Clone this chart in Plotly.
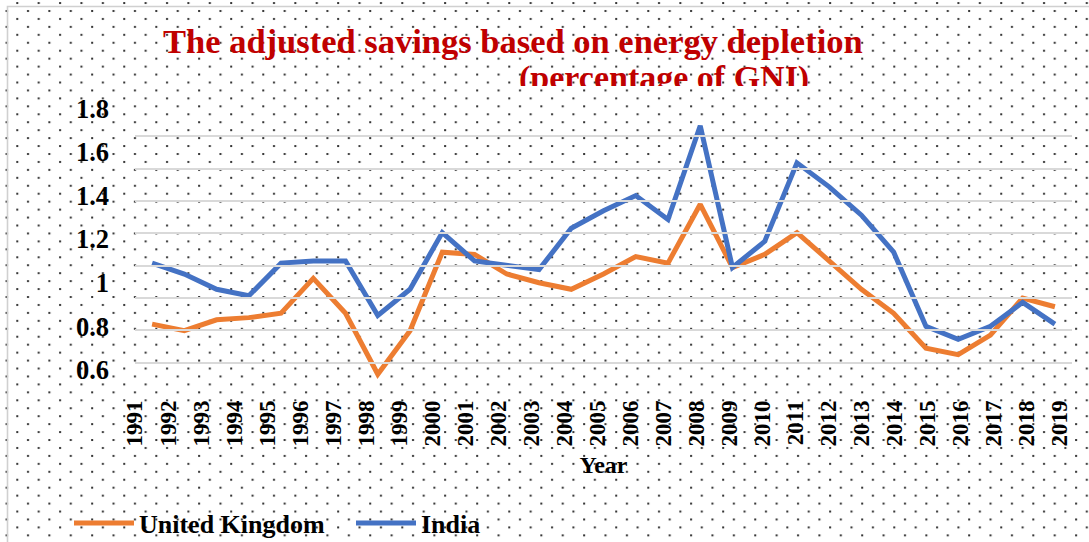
import base64
import plotly.graph_objects as go

years = [str(y) for y in range(1991, 2020)]
united_kingdom = [0.81, 0.78, 0.83, 0.84, 0.86, 1.02, 0.86, 0.58, 0.78, 1.14, 1.13,
                  1.04, 1.00, 0.97, 1.04, 1.12, 1.09, 1.36, 1.07, 1.13, 1.23, 1.10,
                  0.97, 0.86, 0.70, 0.67, 0.76, 0.93, 0.89]
india = [1.09, 1.04, 0.97, 0.94, 1.09, 1.10, 1.10, 0.85, 0.97, 1.23, 1.10,
         1.08, 1.06, 1.25, 1.33, 1.40, 1.29, 1.72, 1.07, 1.19, 1.55, 1.44,
         1.31, 1.14, 0.80, 0.74, 0.80, 0.91, 0.81]
y_ticks = [0.6, 0.8, 1.0, 1.2, 1.4, 1.6, 1.8]
y_tick_text = ["0.6", "0.8", "1", "1.2", "1.4", "1.6", "1.8"]
grid_steps = list(range(10))

W, H = 1089, 542
L, R, T, B = 135, 17, 104, 147
PW, PH = W - L - R, H - T - B

SERIF = "Liberation Serif, Times New Roman, serif"
ORANGE = "#ED7D31"
BLUE = "#4472C4"
RED = "#C00000"

# dotted background pattern (decoration)
svg = f'''<svg xmlns="http://www.w3.org/2000/svg" width="{W}" height="{H}" viewBox="0 0 {W} {H}" preserveAspectRatio="none">
<defs><pattern id="d" patternUnits="userSpaceOnUse" x="23" y="7" width="21.39" height="15.89">
<rect x="4" y="3" width="2" height="2" fill="#333"/>
<rect x="14.7" y="10.95" width="2" height="2" fill="#333"/>
</pattern></defs>
<rect x="0" y="0" width="{W}" height="{H}" fill="url(#d)"/>
<path d="M7.5,{H} L7.5,6.5 L{W},6.5" fill="none" stroke="#D0D0D0" stroke-width="1.6"/>
</svg>'''
src = "data:image/svg+xml;base64," + base64.b64encode(svg.encode()).decode()

def px(xp):
    return (xp - L) / PW

def py(yp):
    return (H - B - yp) / PH

fig = go.Figure()
# empty helper trace: draws the gridline axis (y) and the year-label axis (x2)
fig.add_trace(go.Scatter(x=[], y=[], xaxis="x2", yaxis="y", showlegend=False,
                         hoverinfo="skip", mode="lines"))
fig.add_trace(go.Scatter(x=years, y=united_kingdom, name="United Kingdom", mode="lines",
                         line=dict(color=ORANGE, width=5), xaxis="x", yaxis="y2"))
fig.add_trace(go.Scatter(x=years, y=india, name="India", mode="lines",
                         line=dict(color=BLUE, width=5), xaxis="x", yaxis="y2"))

fig.update_layout(
    width=W, height=H,
    margin=dict(l=L, r=R, t=T, b=B, autoexpand=False),
    paper_bgcolor="white",
    plot_bgcolor="rgba(0,0,0,0)",
    images=[dict(source=src, xref="paper", yref="paper", x=px(0), y=py(0),
                 sizex=W / PW, sizey=H / PH, xanchor="left", yanchor="top",
                 sizing="stretch", layer="below")],
    xaxis=dict(type="category", categoryorder="array", categoryarray=years,
               range=[-0.53, 28.53], showgrid=False, showline=False, zeroline=False,
               ticks="", showticklabels=False),
    xaxis2=dict(type="category", categoryorder="array", categoryarray=years,
                overlaying="x", anchor="y", side="bottom",
                range=[-0.001, 28.39], showgrid=False, showline=False, zeroline=False,
                ticks="", tickangle=-90, tickvals=years,
                tickfont=dict(family=SERIF, size=23, color="black", weight="bold"),
                title=dict(text="Year", standoff=10,
                           font=dict(family=SERIF, size=24, color="black", weight="bold"))),
    yaxis=dict(range=[0, 9], tickvals=grid_steps, showticklabels=False,
               showgrid=True, gridcolor="#D9D9D9", gridwidth=1.5, zeroline=False,
               showline=False, ticks=""),
    yaxis2=dict(overlaying="y", side="left", range=[0.485, 1.82],
                tickvals=y_ticks, ticktext=y_tick_text, showgrid=False, zeroline=False,
                showline=False, ticks="", ticklabelstandoff=25,
                tickfont=dict(family=SERIF, size=26.5, color="black", weight="bold")),
    showlegend=True,
    legend=dict(orientation="h", x=px(69), xanchor="left", y=py(523), yanchor="middle",
                bgcolor="rgba(0,0,0,0)", font=dict(family=SERIF, size=26, color="black", weight="bold"),
                itemwidth=60, entrywidth=207, entrywidthmode="pixels"),
    annotations=[
        dict(text="The adjusted savings based on energy depletion", xref="paper", yref="paper",
             x=px(513), y=py(41), xanchor="center", yanchor="middle", showarrow=False,
             font=dict(family=SERIF, size=34.5, color=RED, weight="bold")),
        dict(text="(percentage of GNI)", xref="paper", yref="paper",
             x=px(664), y=py(58), xanchor="center", yanchor="top", showarrow=False,
             height=27, valign="top", borderpad=0,
             font=dict(family=SERIF, size=34, color=RED, weight="bold")),
    ],
)

fig.write_html("out.html", config={"displayModeBar": False},
               post_script="document.body.style.margin='0';")
